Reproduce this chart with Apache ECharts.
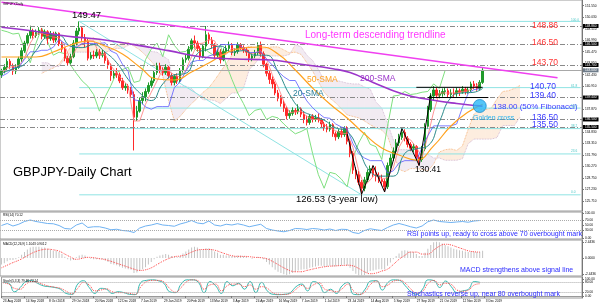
<!DOCTYPE html>
<html><head><meta charset="utf-8">
<script src="https://cdn.jsdelivr.net/npm/echarts@6/dist/echarts.min.js"></script>
<style>html,body{margin:0;padding:0;background:#fff}#c{width:600px;height:306px}</style>
</head><body><div id="c"></div>
<script>
// ---- categories: one slot = 2 trading days ----
const NSLOTS = 202;
const dateLabels = ['23 Aug 2018','14 Sep 2018','8 Oct 2018','29 Oct 2018','20 Nov 2018','12 Dec 2018','7 Jan 2019','29 Jan 2019','20 Feb 2019','13 Mar 2019','3 Apr 2019','24 Apr 2019','16 May 2019','7 Jun 2019','1 Jul 2019','23 Jul 2019','14 Aug 2019','5 Sep 2019','27 Sep 2019','21 Oct 2019','12 Nov 2019','3 Dec 2019'];
const priceTicks = [151.55,150.03,148.51,146.99,145.47,143.95,142.43,140.91,139.39,137.87,136.35,134.83,133.31,131.79,130.27,128.75,127.23,125.71];
const rsiTicks = [100,70,50,30,0];
const macdTicks = [2.4436,0,-2.4436];
const stochTicks = [100,80,20,0];

// [open, close, low, high]
const candles = [
[142.4,142.9,142.0,143.2],[142.9,143.4,142.6,143.8],[143.4,144.2,143.0,144.6],[144.2,143.6,143.2,144.5],[143.6,142.9,142.4,143.9],
[142.9,143.4,142.5,143.8],[143.4,144.5,143.2,144.8],[144.5,145.6,144.1,146.0],[145.6,146.6,145.3,146.9],[146.6,147.6,146.3,147.9],
[147.6,148.2,147.2,148.9],[148.2,147.6,147.2,148.5],[147.6,148.0,147.3,148.4],[148.0,148.3,147.7,148.7],[148.3,147.5,147.1,148.6],
[147.5,148.1,147.2,148.4],[148.1,147.2,146.5,148.3],[147.2,147.8,146.9,148.2],[147.8,147.0,146.6,148.1],[147.0,147.9,146.7,148.1],
[147.9,146.5,146.2,148.0],[146.5,145.8,145.4,146.8],[145.8,144.6,144.2,146.0],[144.6,144.0,143.6,144.9],[144.0,144.8,143.8,145.2],
[144.8,146.6,144.6,147.0],[146.6,148.2,146.3,148.6],[148.2,148.6,147.7,149.47],[148.6,147.3,146.9,148.8],[147.3,146.8,146.0,147.8],
[146.8,144.6,144.3,147.2],[144.6,145.0,144.4,145.4],[145.0,144.9,144.5,145.6],[144.9,145.4,144.6,145.8],[145.4,145.0,144.5,145.8],
[145.0,145.2,144.7,145.7],[145.2,144.3,143.9,145.5],[144.3,143.7,143.2,144.6],[143.7,142.3,141.6,143.9],[142.3,142.6,141.9,143.0],
[142.6,142.4,142.0,143.3],[142.4,141.6,141.3,142.7],[141.6,140.7,140.4,142.0],[140.7,140.9,140.3,141.3],[140.9,140.4,139.9,141.2],
[140.4,139.8,139.4,140.8],[139.8,136.8,132.4,140.2],[136.8,137.6,136.3,138.3],[137.6,139.0,137.4,139.4],[139.0,139.5,138.5,140.1],
[139.5,140.2,138.9,140.6],[140.2,141.0,139.9,141.4],[141.0,141.6,140.7,142.0],[141.6,142.7,141.3,143.0],[142.7,143.6,142.4,144.0],
[143.6,143.1,142.6,144.0],[143.1,142.7,142.3,143.4],[142.7,143.4,142.4,143.8],[143.4,142.3,141.9,143.6],[142.3,141.4,141.0,142.6],
[141.4,142.2,141.0,142.5],[142.2,141.6,141.2,142.6],[141.6,143.0,141.4,143.3],[143.0,144.4,142.7,144.7],[144.4,144.6,144.0,145.1],
[144.6,145.8,144.3,146.2],[145.8,146.9,145.5,147.2],[146.9,146.6,146.0,147.6],[146.6,145.9,145.5,146.9],[145.9,144.8,144.4,146.2],
[144.8,146.2,144.6,146.5],[146.2,147.7,145.5,148.86],[147.7,147.0,146.5,148.0],[147.0,146.3,145.9,147.4],[146.3,145.0,144.6,146.6],
[145.0,145.4,144.5,145.8],[145.4,144.4,143.9,145.8],[144.4,145.5,144.2,145.9],[145.5,145.9,145.2,146.3],[145.9,146.3,145.5,146.8],
[146.3,145.3,145.0,146.6],[145.3,145.5,144.9,145.9],[145.5,146.4,145.2,146.7],[146.4,146.0,145.7,146.6],[146.0,145.7,145.3,146.3],
[145.7,145.4,144.9,146.0],[145.4,144.6,144.1,145.7],[144.6,144.9,144.2,145.3],[144.9,145.3,144.6,145.7],[145.3,146.3,145.0,146.7],
[146.3,145.2,144.8,146.8],[145.2,143.8,143.4,145.5],[143.8,142.6,142.2,144.0],[142.6,141.8,141.2,143.0],[141.8,141.2,140.6,142.2],
[141.2,140.0,139.7,141.5],[140.0,139.3,138.9,140.4],[139.3,138.6,138.2,139.7],[138.6,138.0,137.5,139.0],[138.0,137.0,136.5,138.2],
[137.0,137.3,136.6,137.7],[137.3,137.7,137.0,138.1],[137.7,137.5,137.1,138.0],[137.5,137.9,137.2,138.5],[137.9,137.2,136.8,138.1],
[137.2,136.5,136.0,137.5],[136.5,136.1,135.7,137.0],[136.1,136.9,135.8,137.2],[136.9,136.5,136.1,137.2],[136.5,136.7,136.2,137.1],
[136.7,136.5,136.1,137.3],[136.5,135.9,135.4,136.7],[135.9,135.4,135.0,136.2],[135.4,135.2,134.8,135.9],[135.2,135.8,134.9,136.2],
[135.8,134.6,134.2,136.0],[134.6,134.2,133.7,134.9],[134.2,134.9,133.9,135.2],[134.9,134.5,134.1,135.3],[134.5,135.3,134.2,135.6],
[135.3,133.6,133.2,135.6],[133.6,132.0,131.5,133.9],[132.0,129.8,129.3,132.3],[129.8,129.2,128.6,130.2],[129.2,128.2,127.8,129.7],
[128.2,127.4,126.53,128.5],[127.4,128.5,127.0,128.9],[128.5,129.5,128.2,129.9],[129.5,130.0,129.1,130.4],[130.0,129.3,128.9,130.4],
[129.3,129.0,128.3,130.3],[129.0,128.6,128.1,129.5],[128.6,128.3,127.8,129.2],[128.3,127.6,126.9,128.6],[127.6,130.4,127.3,130.8],
[130.4,131.4,130.0,131.9],[131.4,132.3,131.0,132.8],[132.3,133.4,132.0,133.9],[133.4,134.1,133.0,134.6],[134.1,134.8,133.8,135.2],
[134.8,134.0,133.6,135.2],[134.0,133.2,132.8,134.3],[133.2,132.7,132.3,133.5],[132.7,132.9,132.2,133.3],[132.9,131.5,131.1,133.1],
[131.5,131.2,130.41,131.8],[131.2,132.6,130.9,133.0],[132.6,135.6,132.3,136.0],[135.6,137.8,135.3,138.3],[137.8,139.6,137.5,140.0],
[139.6,140.4,139.0,140.9],[140.4,139.7,139.3,140.7],[139.7,139.9,139.3,140.4],[139.9,140.2,139.5,140.6],[140.2,140.3,139.7,140.7],
[140.3,139.8,139.4,140.6],[139.8,140.0,139.4,140.5],[140.0,139.9,139.4,140.6],[139.9,140.3,139.5,140.7],[140.3,140.1,139.6,140.6],
[140.1,140.5,139.9,140.9],[140.5,140.2,139.8,140.8],[140.2,140.4,139.9,140.8],[140.4,141.2,140.1,141.5],[141.2,140.9,140.5,141.6],
[140.9,140.6,140.3,141.3],[140.6,141.4,140.4,141.7],[141.4,143.0,141.2,143.3]
];

// moving averages: [slot, value]
const sma200 = [[0,148.7],[11,148.2],[23,147.5],[34,147.1],[46,146.4],[58,145.6],[69,144.8],[81,144.5],[92,144.4],[104,143.8],[115,143.2],[121,142.7],[129,141.4],[139,139.9],[149,139.1],[158,138.6],[166,138.3],[167,138.25]];
const sma50 = [[0,144.76],[12,144.76],[18,145.42],[24,146.35],[30,146.88],[36,146.21],[42,145.16],[48,143.44],[54,141.85],[60,141.72],[66,142.77],[72,143.97],[78,145.29],[84,145.95],[90,146.08],[96,145.16],[102,143.04],[108,140.66],[114,138.54],[120,136.69],[126,134.57],[132,132.72],[138,131.8],[144,131.13],[150,133.0],[156,135.63],[162,137.48],[167,138.5]];
const sma20 = [[0,142.6],[4,143.2],[8,143.8],[12,145.6],[16,147.4],[20,147.6],[24,146.2],[28,146.0],[32,146.4],[36,145.4],[40,144.0],[44,141.8],[48,140.0],[52,139.0],[56,141.2],[60,142.4],[64,142.6],[68,145.2],[72,145.8],[76,146.2],[80,145.4],[84,145.6],[88,145.0],[92,145.0],[96,142.8],[100,139.8],[104,137.8],[108,137.0],[112,136.4],[116,135.4],[120,134.9],[124,132.4],[128,129.6],[132,129.0],[136,129.0],[140,132.0],[144,132.6],[148,133.0],[152,136.2],[156,139.4],[160,140.0],[164,140.1],[167,140.6]];

// Ichimoku (every 2 slots)
const tenkan = [142.6,143.3,143.5,143.6,144.6,146.6,147.8,147.9,147.6,147.4,147.3,146.2,144.4,145.9,146.5,146.9,146.9,145.1,145.1,143.6,142.6,141.8,140.9,136.3,136.3,138.5,140.1,141.6,143.1,142.9,142.4,142.1,143.0,144.8,146.5,146.6,147.1,146.9,145.1,145.1,145.9,145.8,145.9,145.2,145.3,145.6,144.5,142.4,140.8,138.9,137.4,137.5,137.6,136.9,136.5,136.5,135.8,135.4,135.0,134.7,134.6,132.8,129.7,127.7,128.5,129.4,128.6,128.8,130.1,132.8,134.2,133.8,132.8,131.5,134.3,137.5,140.0,140.0,140.0,140.0,140.2,140.3,140.7,141.3];
const kijun = [142.2,142.6,143.3,143.4,144.45,145.45,145.45,145.65,145.65,146.05,147.1,146.55,146.15,146.1,146.55,146.55,146.55,146.55,146.65,145.55,145.2,143.8,142.85,139.1,138.95,138.15,137.85,138.2,138.2,138.2,140.7,141.45,142.9,144.1,144.3,144.3,144.9,145.1,146.4,146.4,146.4,146.4,145.95,145.35,145.35,145.45,144.5,143.7,142.85,142.15,141.65,141.65,140.25,138.95,138.05,137.35,136.75,136.65,135.9,135.5,135.25,133.3,132.0,131.4,131.05,131.05,131.05,129.4,129.7,130.75,131.05,131.05,131.05,132.8,134.35,135.65,135.65,135.65,135.65,135.9,138.1,139.95,140.45,140.55];
const chikou = [148.3,148.1,147.8,147.9,145.8,144.0,146.6,148.6,146.8,145.0,145.4,145.2,143.7,142.6,141.6,140.9,139.8,137.6,139.5,141.0,142.7,143.1,143.4,141.4,141.6,144.4,145.8,146.6,144.8,147.7,146.3,145.4,145.5,146.3,145.5,146.0,145.4,144.9,146.3,143.8,141.8,140.0,138.6,137.0,137.7,137.9,136.5,136.9,136.7,135.9,135.2,134.6,134.9,135.3,132.0,129.2,127.4,129.5,129.3,128.6,127.6,131.4,133.4,134.8,133.2,132.9,131.2,135.6,139.6,139.7,140.2,139.8,139.9,140.1,140.2,141.2,140.6,143.0];
const CLOUD_START = 14;
const spanA = [142.6,143.0,143.3,143.8,144.9,146.1,146.7,146.7,147.0,147.3,147.0,146.0,145.7,146.3,146.6,146.7,146.2,145.7,145.0,144.2,143.3,142.2,139.0,136.3,136.9,137.8,138.6,139.3,140.1,140.7,141.7,142.8,143.9,145.0,145.6,145.9,146.2,146.0,145.8,146.0,146.1,146.1,145.7,145.3,145.4,145.1,144.0,142.9,141.5,140.1,139.3,138.7,137.9,137.1,136.9,136.7,136.3,135.8,135.4,135.1,134.3,132.1,129.9,129.6,130.0,130.0,129.9,129.7,130.6,132.2,132.5,132.6,132.4,133.0,135.2,137.2,137.8,137.8,138.0,139.2,140.2,140.3,140.6,141.0];
const spanB = [144.0,144.0,143.5,143.5,144.5,145.4,145.4,145.4,145.4,145.4,145.4,145.4,145.6,145.9,145.9,146.3,146.5,146.5,146.3,145.5,145.4,144.9,144.4,140.9,140.9,140.9,140.6,139.8,139.1,139.1,139.0,138.6,139.3,140.0,140.0,140.6,143.1,143.9,144.8,144.9,144.9,144.9,144.9,145.1,146.4,146.1,145.0,144.3,143.1,141.7,141.7,141.7,141.5,141.3,141.2,141.2,140.8,140.5,138.8,138.0,136.0,133.8,132.5,132.5,132.5,131.9,131.9,131.9,131.4,131.4,131.1,131.1,131.1,131.3,133.3,133.9,133.9,133.9,133.9,134.1,135.7,135.7,135.7,136.8];

// levels
const resLevels = [148.86,146.50,143.70,139.40,136.50,135.50];
const lastPrice = 143.00;
const fibHighSlot = 27, fibLowSlot = 125;
const fibLevels = [149.47,140.71,138.00,135.29,131.94,126.53];
const fibNames = ['100.0','61.8','50.0','38.2','23.6','0.0'];
const trendline = [[0,152.0],[193,142.0]];
const swingLine = [[120,134.6],[125,126.6],[129,130.4],[133,126.9],[139,135.3],[145,130.41],[149,139.8]];
const rangeTop = [[144,140.75],[167,140.75]];
const rangeBot = [[148,139.40],[169,139.40]];
const goldenCross = [[166,138.28]];

// oscillators (every 2 slots)
const rsi = [50,58,48,55,66,72,66,62,58,57,50,38,36,52,60,42,45,45,40,33,35,30,28,22,40,48,52,58,52,50,47,56,62,70,60,57,68,52,48,55,52,57,52,45,50,55,38,32,28,25,30,38,37,34,38,36,32,36,30,35,34,22,18,30,37,33,30,42,52,58,52,45,40,48,65,72,66,64,62,64,66,63,68,70];
const macdSignal = [-1.5,-1.1,-0.7,-0.35,0.1,0.6,1.0,1.25,1.35,1.25,1.05,0.6,0.15,-0.2,-0.05,0.1,0.05,-0.1,-0.25,-0.5,-0.8,-1.1,-1.4,-1.7,-1.9,-1.8,-1.5,-1.0,-0.5,-0.1,0.2,0.3,0.5,0.9,1.2,1.3,1.3,1.2,0.9,0.6,0.35,0.25,0.25,0.2,0.1,0.05,-0.1,-0.5,-1.0,-1.5,-1.9,-2.1,-2.1,-1.9,-1.7,-1.5,-1.35,-1.25,-1.2,-1.15,-1.1,-1.2,-1.6,-2.1,-2.4,-2.3,-2.0,-1.7,-1.0,-0.2,0.4,0.9,0.9,0.6,0.6,1.2,1.8,2.1,2.0,1.7,1.4,1.1,0.95,0.9];
// MACD main, one value per slot
const macdMain = [-1.0,-0.8,-0.5,-0.3,-0.3,-0.2,0.1,0.5,0.9,1.3,1.6,1.7,1.7,1.7,1.6,1.6,1.4,1.3,1.1,1.1,0.9,0.6,0.2,-0.2,-0.4,-0.3,0.1,0.4,0.5,0.4,0.0,-0.1,-0.2,-0.2,-0.2,-0.2,-0.4,-0.6,-0.9,-1.0,-1.1,-1.3,-1.5,-1.6,-1.7,-1.8,-2.3,-2.2,-2.0,-1.7,-1.4,-1.0,-0.6,-0.2,0.2,0.4,0.5,0.6,0.5,0.3,0.2,0.1,0.3,0.7,1.0,1.3,1.6,1.7,1.6,1.3,1.3,1.5,1.5,1.3,1.0,0.8,0.5,0.5,0.4,0.4,0.3,0.3,0.4,0.4,0.3,0.2,0.0,-0.1,0.0,0.2,0.1,-0.2,-0.6,-1.0,-1.4,-1.8,-2.1,-2.3,-2.5,-2.6,-2.5,-2.3,-2.1,-1.9,-1.8,-1.7,-1.7,-1.5,-1.4,-1.3,-1.2,-1.2,-1.3,-1.3,-1.2,-1.3,-1.3,-1.2,-1.2,-1.0,-1.2,-1.5,-2.0,-2.4,-2.7,-2.8,-2.6,-2.3,-2.0,-1.9,-1.8,-1.7,-1.7,-1.7,-1.2,-0.7,-0.2,0.3,0.7,1.1,1.2,1.1,1.0,0.9,0.6,0.3,0.3,0.8,1.4,2.0,2.4,2.5,2.4,2.2,2.0,1.8,1.6,1.4,1.3,1.2,1.1,1.0,0.9,1.0,0.95,0.9,0.95,1.1];
const stochK = [80,75,25,50,85,90,75,60,55,50,40,15,10,70,90,50,15,45,40,15,25,20,10,8,80,92,95,90,75,25,20,70,95,95,80,20,85,60,15,85,60,75,40,85,20,80,30,10,8,10,20,55,70,30,85,70,20,40,15,60,80,10,8,40,88,90,35,80,95,92,60,25,10,40,95,90,50,88,55,20,30,40,85,80];
const stochD = [78,70,45,40,70,85,80,68,58,52,45,28,12,45,80,65,30,35,42,25,20,20,15,10,55,85,92,92,82,45,22,50,85,95,88,40,65,70,30,60,70,70,55,65,40,55,45,18,10,9,15,40,62,45,65,78,40,32,25,42,70,30,10,25,70,88,55,65,88,93,75,40,18,28,75,92,65,75,68,35,28,35,65,72];

// ---------------------------------------------------------
const slots = Array.from({length: NSLOTS}, (_, i) => String(i));
const every2 = (arr, start) => arr.map((v, i) => [start + 2 * i, v]);
const FONT = 'Liberation Sans, Arial, sans-serif';
const GRAY = '#9a9a9a';
const dashDot = [5, 2, 1, 2];
const TINY = 3.2;

function xAx(gi, showLabels) {
  return {
    type: 'category', gridIndex: gi, data: slots, boundaryGap: true,
    axisLine: {show: showLabels, lineStyle: {color: GRAY}},
    axisTick: {show: showLabels, interval: (i) => i % 8 === 0 && i / 8 < dateLabels.length, length: 2, lineStyle: {color: '#777'}},
    axisLabel: {show: showLabels, showMinLabel: true, hideOverlap: false, interval: (i) => i % 8 === 0 && i / 8 < dateLabels.length,
      formatter: (v, i) => dateLabels[Math.round(Number(v) / 8)] || '', fontSize: TINY, color: '#000', align: 'left', margin: 2, fontFamily: FONT},
    splitLine: {show: false}
  };
}
function yAx(gi, min, max, ticks, digits) {
  return {
    type: 'value', gridIndex: gi, position: 'right', min: min, max: max, scale: true,
    axisLine: {show: true, lineStyle: {color: '#777'}},
    axisTick: {show: true, customValues: ticks, length: 2, lineStyle: {color: '#777'}},
    axisLabel: {show: true, customValues: ticks, fontSize: TINY, color: '#000', margin: 3, fontFamily: FONT, formatter: (v) => Number(v).toFixed(digits)},
    splitLine: {show: false}
  };
}
function seg(data, color, width, type, z) {
  return {type: 'line', xAxisIndex: 0, yAxisIndex: 0, data: data, symbol: 'none', silent: true,
    lineStyle: {color: color, width: width, type: type || 'solid'}, z: z || 6, animation: false};
}
function boxLabel(v, bg) {
  return {show: true, position: 'end', distance: 1, formatter: v.toFixed(3), backgroundColor: bg, color: '#fff', fontSize: TINY, padding: [1, 2, 0, 2], fontFamily: FONT};
}

const markLevels = resLevels.map(v => ({yAxis: v, lineStyle: {color: '#8a8a8a', width: 1, type: dashDot}, label: boxLabel(v, '#000')}));
markLevels.push({yAxis: lastPrice, lineStyle: {color: '#a8a8a8', width: 1, type: 'solid'}, label: boxLabel(lastPrice, '#6e7c8a')});
markLevels.push({yAxis: fibLevels[5], lineStyle: {opacity: 0}, label: boxLabel(fibLevels[5], '#000')});

const cloudA = every2(spanA, CLOUD_START), cloudB = every2(spanB, CLOUD_START);

const series = [
  {type: 'custom', xAxisIndex: 0, yAxisIndex: 0, silent: true, z: 1, data: cloudA.map((p, i) => [p[0], p[1], cloudB[i][1]]),
   encode: {x: 0, y: [1, 2]},
   renderItem: function (params, api) {
     const i = params.dataIndex;
     if (i >= cloudA.length - 1) return null;
     const a0 = api.coord(cloudA[i]), a1 = api.coord(cloudA[i + 1]);
     const b0 = api.coord(cloudB[i]), b1 = api.coord(cloudB[i + 1]);
     const bull = cloudA[i][1] >= cloudB[i][1];
     return {type: 'polygon', shape: {points: [a0, a1, b1, b0]},
       style: {fill: bull ? 'rgba(244,164,96,0.20)' : 'rgba(200,170,200,0.24)', stroke: null}};
   }},
  seg(cloudA, '#f4a460', 0.8, 'dotted', 2),
  seg(cloudB, '#c9a9c9', 0.8, 'dotted', 2),
  seg(every2(chikou, 0), '#7fe07f', 1, 'solid', 3),
  {type: 'candlestick', xAxisIndex: 0, yAxisIndex: 0, data: candles, barWidth: 2, z: 4, silent: true,
   itemStyle: {color: '#1f9a2a', color0: '#ff2a2a', borderColor: '#1f9a2a', borderColor0: '#ff2a2a', borderWidth: 1},
   markLine: {symbol: 'none', silent: true, animation: false, data: markLevels}},
  seg(every2(tenkan, 0), '#ff7a7a', 0.8, 'solid', 5),
  seg(every2(kijun, 0), '#5b5bff', 0.8, 'solid', 5),
  Object.assign(seg(sma20, '#2a8a8a', 1, 'solid', 5), {smooth: true}),
  Object.assign(seg(sma50, '#ffa21f', 1.2, 'solid', 5), {smooth: true}),
  Object.assign(seg(sma200, '#9b35c9', 1.6, 'solid', 5), {smooth: true}),
  seg(trendline, '#f040f0', 1.5, 'solid', 6),
  seg([[fibHighSlot, fibLevels[0]], [fibLowSlot, fibLevels[5]]], '#8fe3e3', 1, 'solid', 2),
  ...fibLevels.map(v => seg([[fibHighSlot, v], [NSLOTS - 1, v]], '#8fe3e3', 1, 'solid', 2)),
  seg(swingLine, '#000', 1, 'solid', 7),
  seg(rangeTop, '#000', 1, 'solid', 7),
  seg(rangeBot, '#000', 1, 'solid', 7),
  {type: 'scatter', xAxisIndex: 0, yAxisIndex: 0, data: goldenCross, symbolSize: 13, silent: true, z: 8,
   itemStyle: {color: '#29b6f6', borderColor: '#1a8fd0', borderWidth: 1}},
  // RSI
  {type: 'line', xAxisIndex: 1, yAxisIndex: 1, data: every2(rsi, 0), symbol: 'none', silent: true, lineStyle: {color: '#6fb2f2', width: 1},
   markLine: {symbol: 'none', silent: true, label: {show: false}, lineStyle: {color: '#aaa', type: 'dotted', width: 1}, data: [{yAxis: 70}, {yAxis: 30}]}},
  // MACD
  {type: 'bar', xAxisIndex: 2, yAxisIndex: 2, data: macdMain, barWidth: 1, silent: true, itemStyle: {color: '#c4c4c4'}},
  {type: 'line', xAxisIndex: 2, yAxisIndex: 2, data: every2(macdSignal, 0), symbol: 'none', silent: true, smooth: true, lineStyle: {color: '#ff4a4a', width: 1, type: 'dotted'}},
  // Stochastic
  {type: 'line', xAxisIndex: 3, yAxisIndex: 3, data: every2(stochK, 0), symbol: 'none', silent: true, smooth: true, lineStyle: {color: '#34b9b0', width: 1},
   markLine: {symbol: 'none', silent: true, label: {show: false}, lineStyle: {color: '#aaa', type: 'dotted', width: 1}, data: [{yAxis: 80}, {yAxis: 20}]}},
  {type: 'line', xAxisIndex: 3, yAxisIndex: 3, data: every2(stochD, 0), symbol: 'none', silent: true, smooth: true, lineStyle: {color: '#ff4a4a', width: 1, type: 'dotted'}}
];

function txt(text, x, y, size, color, extra) {
  return Object.assign({type: 'text', x: x, y: y, silent: true, z: 100,
    style: {text: text, fill: color, fontSize: size, fontFamily: FONT, verticalAlign: 'middle'}}, extra || {});
}
const graphics = [
  txt('GBPJPY,Daily', 3, 4, TINY, '#000'),
  txt('149.47', 72, 15, 9.5, '#000'),
  txt('Long-term descending trendline', 305, 35, 10, '#ff38ff'),
  txt('148.86', 532, 26, 8.5, '#ff3333'),
  txt('146.50', 532, 43, 8.5, '#ff3333'),
  txt('143.70', 532, 63, 8.5, '#ff3333'),
  txt('140.70', 530, 87, 8.5, '#3a3aff'),
  txt('139.40', 530, 96, 8.5, '#3a3aff'),
  txt('138.00 (50% Fibonacci)', 493, 107, 8, '#3a3aff'),
  txt('Golden cross', 473, 118, 7, '#22b0ee'),
  txt('136.50', 532, 118, 8.5, '#3a3aff'),
  txt('135.50', 532, 125, 8.5, '#3a3aff'),
  txt('130.41', 415, 170, 8.5, '#000'),
  txt('126.53 (3-year low)', 296, 199, 9.5, '#000'),
  txt('GBPJPY-Daily Chart', 13, 172, 13, '#000'),
  txt('50-SMA', 307, 80, 8.5, '#ffa21f'),
  txt('200-SMA', 360, 79, 8.5, '#9b35c9'),
  txt('20-SMA', 293, 94, 8.5, '#2a7f9a'),
  txt('RSI(14) 70.12', 3, 215, TINY, '#000'),
  txt('MACD(12,26,9) 1.1043 0.9012', 3, 244, TINY, '#000'),
  txt('Stoch(5,3,3) 79.86 72.14', 3, 281, TINY, '#000'),
  txt('RSI points up, ready to cross above 70 overbought mark', 407, 234, 7, '#2b2bff'),
  txt('MACD strengthens above signal line', 460, 270, 7, '#2b2bff'),
  txt('Stochastics reverse up, near 80 overbought mark', 407, 294, 7, '#2b2bff')
];
const fibY = [20, 86, 106, 126, 151, 192];
fibNames.forEach((n, i) => graphics.push(txt(n, 571, fibY[i], TINY, '#4cc6c6')));

const chart = echarts.init(document.getElementById('c'), null, {renderer: 'canvas'});
chart.setOption({
  animation: false,
  backgroundColor: '#fff',
  textStyle: {fontFamily: FONT},
  grid: [
    {left: 0, right: 18, top: 0, height: 211, show: true, borderColor: GRAY, borderWidth: 1, backgroundColor: '#fff'},
    {left: 0, right: 18, top: 212, height: 27, show: true, borderColor: GRAY, borderWidth: 1},
    {left: 0, right: 18, top: 240, height: 36, show: true, borderColor: GRAY, borderWidth: 1},
    {left: 0, right: 18, top: 277, height: 21, show: true, borderColor: GRAY, borderWidth: 1}
  ],
  xAxis: [xAx(0, false), xAx(1, false), xAx(2, false), xAx(3, true)],
  yAxis: [yAx(0, 124.39, 152.30, priceTicks, 3), yAx(1, -4, 104, rsiTicks, 2), yAx(2, -2.75, 2.75, macdTicks, 4), yAx(3, -11.8, 111.8, stochTicks, 2)],
  series: series,
  graphic: graphics
});
</script></body></html>
